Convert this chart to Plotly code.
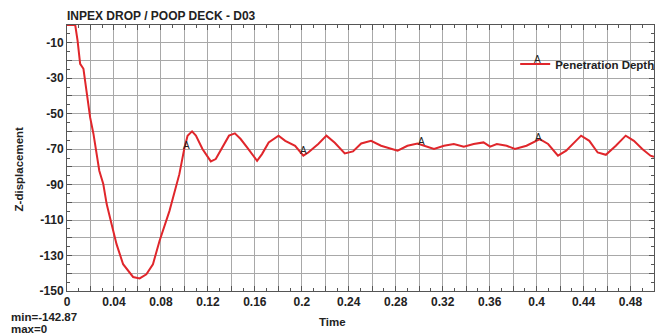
import numpy as np
import plotly.graph_objects as go

# --- data ---
time = [0.0, 0.0070, 0.0090, 0.0112, 0.0140, 0.0169, 0.0197, 0.0225, 0.0248, 0.0275,
        0.0309, 0.0338, 0.0380, 0.0422, 0.0478, 0.0563, 0.0619, 0.0676, 0.0732, 0.0788,
        0.0873, 0.0957, 0.0999, 0.1027, 0.1065, 0.1098, 0.1154, 0.1225, 0.1267, 0.1323,
        0.1380, 0.1430, 0.1479, 0.1534, 0.1619, 0.1661, 0.1718, 0.1802, 0.1859, 0.1943,
        0.2013, 0.2055, 0.2140, 0.2210, 0.2281, 0.2366, 0.2436, 0.2506, 0.2590, 0.2675,
        0.2816, 0.2900, 0.2985, 0.3126, 0.3211, 0.3295, 0.3380, 0.3464, 0.3548, 0.3604,
        0.3661, 0.3745, 0.3815, 0.3914, 0.4027, 0.4098, 0.4182, 0.4252, 0.4309, 0.4379,
        0.4449, 0.4520, 0.4590, 0.4675, 0.4759, 0.4829, 0.4900, 0.4970, 0.5000]
z_disp = [0.0, 0.0, -8.8, -21.9, -24.7, -38.7, -52.1, -61.3, -70.9, -82.2,
          -89.7, -101.0, -112.3, -123.6, -134.9, -142.1, -142.87, -140.6, -134.9, -121.8,
          -104.8, -84.1, -69.8, -62.4, -60.0, -62.4, -69.9, -76.9, -75.6, -69.0,
          -62.4, -61.1, -64.3, -69.0, -76.6, -72.8, -66.2, -62.4, -65.3, -68.1,
          -73.7, -71.9, -67.1, -62.4, -66.4, -72.4, -71.3, -66.8, -65.3, -68.1,
          -70.9, -68.1, -66.8, -69.9, -68.1, -67.1, -68.6, -67.1, -66.2, -68.6,
          -67.1, -68.1, -69.9, -68.1, -64.3, -67.1, -73.7, -70.9, -67.1, -62.4,
          -65.3, -71.9, -73.2, -68.1, -62.4, -65.3, -69.9, -73.7, -74.3]
marker_times = [0.1, 0.2, 0.3, 0.4]
series_name = "Penetration Depth"
marker_label = "A"

x_tickvals = [round(0.02 * i, 2) for i in range(25)]
x_ticktext = ["0", "", "0.04", "", "0.08", "", "0.12", "", "0.16", "", "0.2", "",
              "0.24", "", "0.28", "", "0.32", "", "0.36", "", "0.4", "", "0.44", "", "0.48"]
y_tickvals = list(range(-150, 1, 10))
y_ticktext = ["-150", "", "-130", "", "-110", "", "-90", "", "-70", "", "-50", "",
              "-30", "", "-10", ""]

title_text = "INPEX DROP / POOP DECK - D03"
x_title = "Time"
y_title = "Z-displacement"
min_text = "min=-142.87"
max_text = "max=0"

FONT = "Arial, Liberation Sans, sans-serif"
RED = "#e0262b"
GRID = "#a8a8a8"
TXT = "#222222"

# the page body has an 8px margin; compensate so the figure fills the window
OFF = 8
W, H = 672 - OFF, 336 - OFF
ML, MR, MT, MB = 67 - OFF, 13, 25 - OFF, 45
PW, PH = W - ML - MR, H - MT - MB


def px(x):
    return (x - OFF - ML) / PW


def py(y):
    return (H - MB - (y - OFF)) / PH


def bold(size):
    return dict(family=FONT, size=size, color=TXT, weight="bold")


fig = go.Figure()
fig.add_trace(go.Scatter(x=time, y=z_disp, mode="lines", name=series_name,
                         line=dict(color=RED, width=2), showlegend=True))

for t in marker_times:
    fig.add_annotation(x=t, y=float(np.interp(t, time, z_disp)), text=marker_label,
                       showarrow=False, xshift=2, yshift=3,
                       font=dict(family=FONT, size=10, color=TXT))

axis_common = dict(showline=True, linecolor="#555555", linewidth=1, mirror="ticks",
                   showgrid=True, gridcolor=GRID, gridwidth=1, zeroline=False,
                   ticks="inside", ticklen=5, tickcolor="#555555", automargin=False,
                   tickfont=bold(12))

fig.update_xaxes(range=[0, 0.5], tickmode="array", tickvals=x_tickvals, ticktext=x_ticktext,
                 minor=dict(dtick=0.01, tick0=0, ticks="inside", ticklen=3,
                            tickcolor="#555555", showgrid=False),
                 **axis_common)
fig.update_yaxes(range=[-150, 0], tickmode="array", tickvals=y_tickvals, ticktext=y_ticktext,
                 minor=dict(dtick=5, tick0=0, ticks="inside", ticklen=3,
                            tickcolor="#555555", showgrid=False),
                 **axis_common)

# titles and stats as paper annotations (positions in window pixels)
fig.add_annotation(xref="paper", yref="paper", x=px(65), y=py(16), xanchor="left",
                   yanchor="middle", text=title_text, showarrow=False, font=bold(12))
fig.add_annotation(xref="paper", yref="paper", x=px(335), y=py(322), xanchor="center",
                   yanchor="middle", text=x_title, showarrow=False, font=bold(11.5))
fig.add_annotation(xref="paper", yref="paper", x=px(19), y=py(169), xanchor="center",
                   yanchor="middle", text=y_title, textangle=-90, showarrow=False,
                   font=bold(11.5))
fig.add_annotation(xref="paper", yref="paper", x=px(9), y=py(317), xanchor="left",
                   yanchor="middle", text=min_text, showarrow=False, font=bold(11.5))
fig.add_annotation(xref="paper", yref="paper", x=px(9), y=py(329), xanchor="left",
                   yanchor="middle", text=max_text, showarrow=False, font=bold(11.5))

fig.update_layout(
    width=W, height=H,
    margin=dict(l=ML, r=MR, t=MT, b=MB),
    paper_bgcolor="white", plot_bgcolor="white",
    font=dict(family=FONT, color=TXT),
    legend=dict(x=px(519), y=py(64), xanchor="left", yanchor="middle",
                bgcolor="rgba(0,0,0,0)", borderwidth=0,
                font=bold(11.5), itemwidth=30),
)
fig.add_annotation(xref="paper", yref="paper", x=px(542), y=py(59), xanchor="center",
                   yanchor="middle", text=marker_label, showarrow=False,
                   font=dict(family=FONT, size=10, color=TXT))

fig.write_html("out.html")
